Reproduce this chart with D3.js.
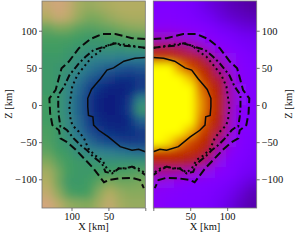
<!DOCTYPE html>
<html>
<head>
<meta charset="utf-8">
<script src="https://cdn.jsdelivr.net/npm/d3@7"></script>
<style>
  html, body { margin: 0; padding: 0; background: #fff; }
  svg { display: block; }
  text { font-family: "Liberation Serif", serif; fill: #111; }
</style>
</head>
<body>
<svg id="chart" width="299" height="251"></svg>
<script>
// grid centres in km
const cols = [7, 21, 35, 49, 63, 77, 91, 105, 119, 133]
const rows = [133, 119, 105, 91, 77, 63, 49, 35, 21, 7, -7, -21, -35, -49, -63, -77, -91, -105, -119, -133]

// left field, 0 navy ... 100 tan
const leftField = [
  [80, 80, 80, 78, 75, 72, 76, 90, 97, 90],
  [78, 78, 76, 72, 66, 64, 72, 86, 92, 80],
  [70, 68, 64, 60, 58, 56, 58, 64, 66, 60],
  [56, 54, 52, 50, 48, 48, 50, 52, 52, 52],
  [46, 46, 44, 44, 44, 44, 46, 48, 50, 50],
  [34, 34, 34, 36, 36, 38, 42, 46, 48, 48],
  [22, 20, 22, 24, 28, 32, 38, 44, 46, 48],
  [12, 8, 8, 12, 18, 24, 32, 40, 46, 48],
  [14, 5, 3, 4, 8, 16, 28, 38, 46, 48],
  [38, 12, 4, 2, 4, 12, 26, 38, 46, 50],
  [46, 14, 4, 2, 4, 12, 26, 38, 46, 50],
  [26, 8, 4, 4, 6, 14, 28, 40, 46, 50],
  [12, 8, 6, 8, 12, 20, 30, 40, 48, 52],
  [14, 12, 14, 18, 22, 28, 36, 44, 48, 54],
  [28, 30, 32, 34, 36, 38, 42, 48, 50, 58],
  [44, 44, 44, 44, 44, 46, 48, 50, 56, 66],
  [56, 54, 52, 50, 50, 48, 48, 50, 62, 76],
  [64, 62, 62, 66, 58, 50, 48, 48, 62, 80],
  [68, 68, 72, 80, 68, 52, 50, 54, 70, 88],
  [72, 72, 76, 88, 76, 66, 68, 72, 85, 98]
]

// right field, 0..1 along the gnuplot map
const rightField = [
  [.25, .25, .24, .23, .20, .17, .15, .13, .12, .11],
  [.26, .26, .25, .24, .22, .20, .17, .15, .14, .13],
  [.29, .29, .28, .27, .26, .24, .21, .19, .17, .16],
  [.36, .36, .35, .33, .30, .28, .25, .23, .21, .20],
  [.47, .47, .45, .42, .38, .33, .29, .26, .24, .22],
  [.60, .60, .57, .54, .48, .42, .35, .30, .26, .24],
  [1, 1, .85, .68, .56, .49, .40, .33, .27, .25],
  [1, 1, 1, .92, .66, .54, .46, .36, .29, .25],
  [1, 1, 1, 1, .78, .59, .49, .37, .30, .26],
  [1, 1, 1, 1, .84, .62, .50, .38, .30, .26],
  [1, 1, 1, 1, .84, .62, .50, .37, .29, .26],
  [1, 1, 1, 1, .78, .59, .49, .36, .28, .25],
  [1, 1, 1, .90, .66, .56, .46, .35, .27, .25],
  [1, .96, .82, .68, .57, .50, .40, .32, .26, .24],
  [.60, .60, .58, .56, .52, .46, .36, .29, .25, .23],
  [.52, .52, .50, .48, .45, .39, .31, .26, .24, .22],
  [.40, .40, .39, .37, .34, .30, .27, .25, .22, .20],
  [.32, .30, .29, .27, .26, .25, .24, .22, .19, .16],
  [.28, .27, .26, .25, .25, .24, .22, .19, .16, .13],
  [.28, .26, .25, .25, .24, .23, .20, .17, .14, .12]
]

// contours, [x, z] in km, same curve on both sides
const solidLine = [[0, 64], [14, 63], [29, 59], [43, 50], [52, 47], [61, 35], [68, 27], [73, 21], [78, 9], [78, -2], [77, -14], [71, -16], [70, -27], [68, -29], [63, -34], [50, -43], [34, -56], [18, -61], [9, -59.5], [0, -63]]
const dottedLine = [[0, 76.6], [25, 81], [43, 83], [54, 79], [63, 71], [72, 65], [81, 54], [92, 40.5], [99, 25], [101, 11], [103, -2], [101, -22], [97, -29], [90, -36], [83, -45], [77, -59], [68, -68], [58.5, -74], [52, -85.6], [45, -91], [36, -85], [27, -85], [18, -83], [9, -85.6], [0, -92]]
const dashdotLine = [[0, 77], [18, 79], [31.5, 80], [40.5, 83], [54, 79], [70, 74], [81, 65], [90, 56], [99, 45], [103, 40], [110, 25], [118, 13.5], [118, -2], [117, -16], [115, -29], [113, -29], [106, -34], [97, -45], [88, -54], [79, -61], [70, -70], [58.5, -79], [54, -90], [45, -92], [36, -85.6], [27, -85.6], [18, -83], [9, -88], [0, -94]]
const dashedLine = [[0, 89], [18, 90], [40.5, 95.5], [58.5, 95.5], [74, 89], [90, 76.5], [103.6, 58.5], [113.5, 49.5], [121.6, 20], [130, 9], [129, -11], [126, -27], [117, -34], [115, -45], [106, -50], [95, -59.5], [83, -72], [70, -85.6], [56, -104], [49.5, -101], [36, -99], [18, -98], [7, -101], [2, -112]]

const xTicks = [0, 50, 100]
const zTicks = [-100, -50, 0, 50, 100]

const svg = d3.select("#chart")

const xLeft = d3.scaleLinear().domain([0, 140]).range([145.3, 42])
const xRight = d3.scaleLinear().domain([0, 140]).range([153.3, 256.7])
const z = d3.scaleLinear().domain([-140, 140]).range([209, 1])

const leftColor = d3.scaleLinear()
  .domain([0, 20, 35, 50, 65, 80, 100])
  .range(["#0b1a7c", "#1b4c8e", "#2f808f", "#3f9c62", "#7fa95c", "#b3ad62", "#d6a581"])
  .clamp(true)

// gnuplot map: sqrt(t), t^3, sin(2 pi t)
function gnuplot(t) {
  const r = Math.sqrt(t)
  const g = t * t * t
  const b = Math.max(0, Math.sin(2 * Math.PI * t))
  return d3.rgb(r * 255, g * 255, b * 255).formatHex()
}
const rightColor = d3.scaleSequential(gnuplot).domain([0, 1]).clamp(true)

const defs = svg.append("defs")
const blur = defs.append("filter")
  .attr("id", "soft")
  .attr("filterUnits", "userSpaceOnUse")
  .attr("x", -60).attr("y", -60).attr("width", 420).attr("height", 380)
blur.append("feGaussianBlur").attr("stdDeviation", 4)

const step = 7   // half a cell, km
const over = 40  // edge cells run on past the frame so the blur does not fade there

function panel(name, x, field, color) {
  defs.append("clipPath").attr("id", "clip-" + name)
    .append("rect")
    .attr("x", Math.min(x(0), x(140)))
    .attr("y", z(140))
    .attr("width", Math.abs(x(140) - x(0)))
    .attr("height", z(-140) - z(140) - 1)

  const cells = []
  rows.forEach(function (zv, i) {
    cols.forEach(function (xv, j) {
      cells.push({ x: xv, z: zv, v: field[i][j], i: i, j: j })
    })
  })

  const clipped = svg.append("g").attr("clip-path", "url(#clip-" + name + ")")

  clipped.append("g")
    .attr("filter", "url(#soft)")
    .attr("shape-rendering", "crispEdges")
    .selectAll("rect")
    .data(cells)
    .join("rect")
    .attr("x", function (d) {
      const a = x(d.j == 0 ? d.x - step - over : d.x - step)
      const b = x(d.j == cols.length - 1 ? d.x + step + over : d.x + step)
      return Math.min(a, b)
    })
    .attr("width", function (d) {
      const a = x(d.j == 0 ? d.x - step - over : d.x - step)
      const b = x(d.j == cols.length - 1 ? d.x + step + over : d.x + step)
      return Math.abs(b - a) + 0.5
    })
    .attr("y", function (d) { return z(d.i == 0 ? d.z + step + over : d.z + step) })
    .attr("height", function (d) {
      const top = z(d.i == 0 ? d.z + step + over : d.z + step)
      const bottom = z(d.i == rows.length - 1 ? d.z - step - over : d.z - step)
      return bottom - top + 0.5
    })
    .attr("fill", function (d) { return color(d.v) })

  const line = d3.line()
    .x(function (d) { return x(d[0]) })
    .y(function (d) { return z(d[1]) })

  const styles = [
    { pts: solidLine, dash: null, w: 1.5 },
    { pts: dottedLine, dash: "2 3.2", w: 2 },
    { pts: dashdotLine, dash: "7 2.8 2 2.8", w: 2 },
    { pts: dashedLine, dash: "8 3.6", w: 2 }
  ]

  clipped.selectAll("path.contour")
    .data(styles)
    .join("path")
    .attr("class", "contour")
    .attr("d", function (d) { return line(d.pts) })
    .attr("fill", "none")
    .attr("stroke", "#0a0a0a")
    .attr("stroke-width", function (d) { return d.w })
    .attr("stroke-dasharray", function (d) { return d.dash })

  // frame
  svg.append("rect")
    .attr("x", Math.min(x(0), x(140)))
    .attr("y", z(140))
    .attr("width", Math.abs(x(140) - x(0)))
    .attr("height", z(-140) - z(140) - 1)
    .attr("fill", "none")
    .attr("stroke", "#777")
    .attr("stroke-width", 0.8)
}

panel("left", xLeft, leftField, leftColor)
panel("right", xRight, rightField, rightColor)

function tidy(g) {
  g.select(".domain").remove()
  g.selectAll(".tick line").attr("stroke", "#333").attr("stroke-width", 0.7)
  g.selectAll(".tick text").style("font-size", "10.5px").attr("fill", "#111")
}

function xLabel(d) { return d == 0 ? "" : d }

svg.append("g")
  .attr("transform", "translate(0,208)")
  .call(d3.axisBottom(xLeft).tickValues(xTicks).tickFormat(xLabel).tickSize(3).tickPadding(2))
  .call(tidy)

svg.append("g")
  .attr("transform", "translate(0,208)")
  .call(d3.axisBottom(xRight).tickValues(xTicks).tickFormat(xLabel).tickSize(3).tickPadding(2))
  .call(tidy)

svg.append("g")
  .attr("transform", "translate(42,0)")
  .call(d3.axisLeft(z).tickValues(zTicks).tickSize(3).tickPadding(2))
  .call(tidy)

svg.append("g")
  .attr("transform", "translate(256.7,0)")
  .call(d3.axisRight(z).tickValues(zTicks).tickSize(3).tickPadding(2))
  .call(tidy)

svg.append("text").attr("x", 93.5).attr("y", 230).attr("text-anchor", "middle")
  .style("font-size", "10.5px").text("X [km]")
svg.append("text").attr("x", 205).attr("y", 230).attr("text-anchor", "middle")
  .style("font-size", "10.5px").text("X [km]")

svg.append("text").attr("transform", "translate(12,104) rotate(-90)").attr("text-anchor", "middle")
  .style("font-size", "10.5px").text("Z [km]")
svg.append("text").attr("transform", "translate(292,104) rotate(-90)").attr("text-anchor", "middle")
  .style("font-size", "10.5px").text("Z [km]")
</script>
</body>
</html>
